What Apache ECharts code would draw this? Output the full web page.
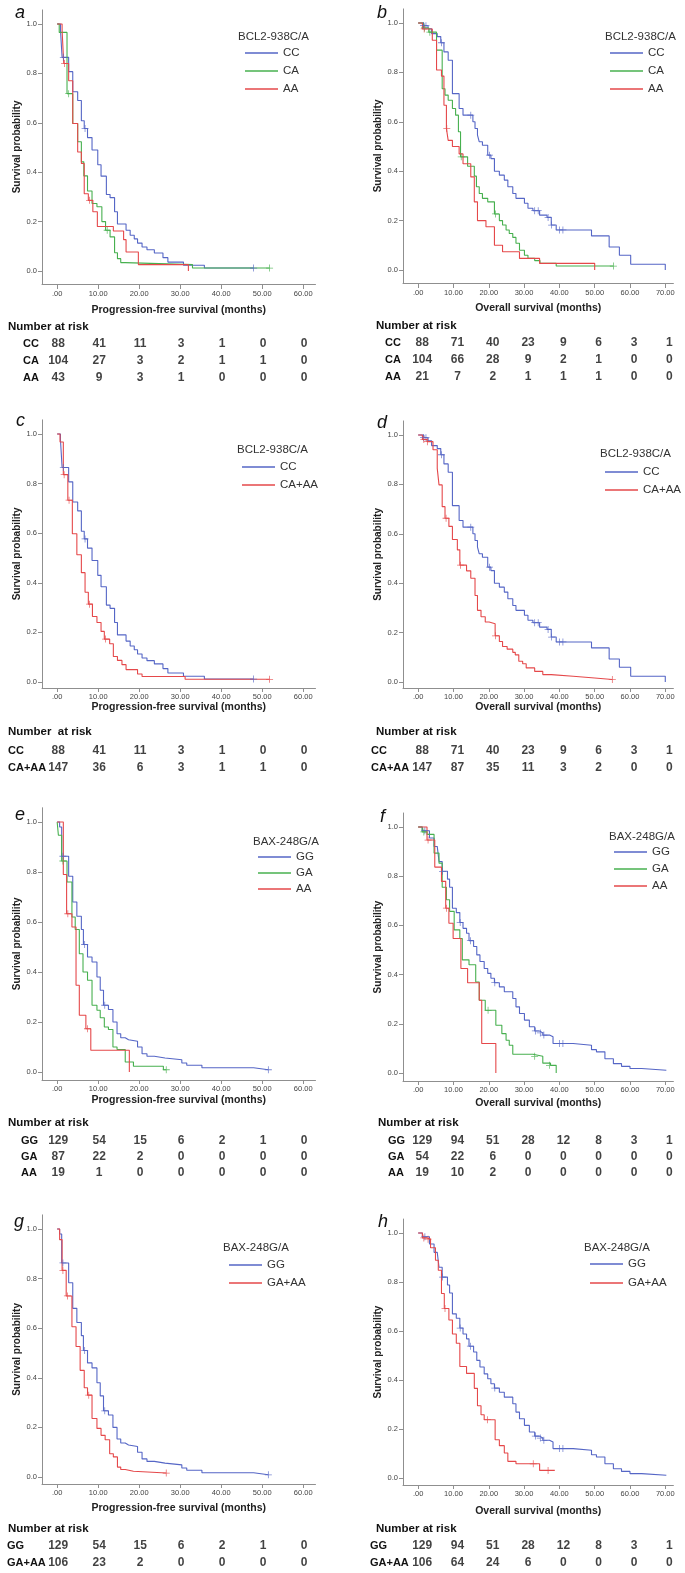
<!DOCTYPE html>
<html><head><meta charset="utf-8">
<script src="https://cdn.jsdelivr.net/npm/echarts@6/dist/echarts.min.js"></script>
<style>html,body{margin:0;padding:0;background:#fff}#c{width:685px;height:1573px}</style>
</head><body><div id="c"></div>
<script>
// ---------------- tick labels ----------------
const pfsTickValues = [0,10,20,30,40,50,60];
const pfsTickLabels = ['.00','10.00','20.00','30.00','40.00','50.00','60.00'];
const osTickValues = [0,10,20,30,40,50,60,70];
const osTickLabels = ['.00','10.00','20.00','30.00','40.00','50.00','60.00','70.00'];
const yTickValues = [0,0.2,0.4,0.6,0.8,1.0];
const yTickLabels = ['0.0','0.2','0.4','0.6','0.8','1.0'];

// ---------------- KM curves (time, survival) ----------------
// BCL2 PFS
const pfsCC = [[0,1],[0.8,0.977],[1.2,0.865],[2.8,0.807],[3.8,0.726],[5.0,0.69],[5.9,0.608],[6.6,0.577],[7.4,0.54],[8.5,0.49],[9.9,0.43],[10.7,0.384],[12.0,0.31],[12.9,0.297],[14.0,0.24],[14.7,0.19],[16.8,0.165],[17.8,0.145],[18.8,0.13],[19.6,0.113],[20.7,0.097],[21.9,0.086],[23.7,0.073],[25.8,0.054],[27.0,0.036],[30.8,0.023],[35.9,0.012],[47.9,0.012]];
const pfsCCcens = [[1.5,0.865],[6.8,0.577],[47.9,0.012]];
const pfsCA = [[0,1],[0.5,0.966],[2.4,0.718],[3.8,0.597],[5.0,0.523],[5.9,0.442],[6.5,0.385],[7.4,0.324],[8.5,0.273],[9.7,0.26],[10.9,0.2],[11.8,0.165],[12.9,0.138],[14.0,0.074],[14.7,0.05],[15.5,0.034],[16.6,0.026],[33.0,0.012],[51.8,0.012]];
const pfsCAcens = [[2.8,0.718],[12.2,0.165],[51.8,0.012]];
const pfsAA1 = [[0,1],[1.2,0.975],[1.6,0.84],[2.8,0.77],[3.8,0.597],[5.0,0.482],[5.9,0.435],[6.6,0.313],[7.6,0.286],[8.7,0.24],[9.8,0.18],[13.7,0.162],[16.2,0.127],[16.8,0.077],[19.8,0.026],[32.0,0]];
const pfsAA1cens = [[1.8,0.84],[7.9,0.286]];
const pfsCAAA = [[0,1],[0.7,0.968],[1.5,0.836],[2.6,0.733],[3.7,0.598],[4.8,0.513],[5.9,0.441],[6.8,0.362],[7.6,0.314],[8.6,0.264],[9.7,0.24],[10.7,0.204],[11.5,0.173],[12.8,0.154],[13.7,0.103],[14.7,0.087],[15.8,0.07],[16.8,0.05],[19.6,0.032],[20.7,0.022],[31.2,0.011],[51.8,0.011]];
const pfsCAAAcens = [[1.7,0.836],[2.9,0.733],[7.9,0.314],[11.8,0.173],[51.8,0.011]];
// BCL2 OS
const osCC = [[0,1],[1.6,0.989],[2.8,0.977],[3.8,0.957],[5.4,0.945],[6.4,0.92],[7.3,0.883],[8.5,0.849],[9.7,0.714],[11.6,0.654],[12.7,0.627],[15.5,0.6],[16.1,0.573],[16.8,0.546],[17.3,0.519],[18.2,0.505],[19.7,0.465],[20.6,0.451],[21.6,0.40],[23.0,0.384],[24.4,0.364],[25.4,0.337],[26.8,0.31],[27.7,0.29],[30.1,0.27],[31.1,0.25],[32.5,0.24],[34.4,0.222],[36.5,0.213],[37.7,0.182],[39.1,0.162],[49.1,0.138],[54.1,0.093],[57.0,0.06],[60.2,0.023],[70.0,0]];
const osCCcens = [[1.5,0.989],[2.2,0.989],[6.6,0.92],[14.9,0.627],[20.2,0.465],[33.0,0.24],[34.0,0.24],[36.8,0.213],[37.8,0.182],[40.0,0.162],[41.0,0.162]];
const osCA = [[0,1],[1.5,0.98],[3.0,0.963],[5.2,0.89],[6.8,0.734],[7.6,0.708],[8.5,0.687],[9.7,0.654],[10.6,0.627],[11.4,0.56],[12.0,0.458],[14.0,0.42],[15.9,0.38],[16.5,0.337],[17.3,0.31],[18.2,0.29],[19.7,0.276],[21.6,0.227],[23.0,0.2],[23.9,0.182],[24.9,0.162],[25.8,0.148],[26.8,0.132],[27.7,0.108],[28.7,0.08],[30.1,0.06],[31.1,0.047],[33.0,0.038],[34.5,0.027],[39.1,0.016],[55.3,0.016]];
const osCAcens = [[1.8,0.98],[3.3,0.963],[12.2,0.458],[21.9,0.227],[55.3,0.016]];
const osAA1 = [[0,1],[1.2,0.976],[4.0,0.93],[5.2,0.81],[6.6,0.785],[7.3,0.667],[8.0,0.573],[8.5,0.525],[9.7,0.5],[11.6,0.47],[12.7,0.43],[14.9,0.377],[15.9,0.276],[16.8,0.2],[19.2,0.175],[21.6,0.1],[23.9,0.074],[28.7,0.047],[34.4,0.027],[50.0,0]];
const osAA1cens = [[1.7,0.976],[8.1,0.573]];
const osCAAA = [[0,1],[1.2,0.982],[2.5,0.973],[4.2,0.94],[5.4,0.865],[5.9,0.798],[6.8,0.71],[7.6,0.663],[8.7,0.63],[9.7,0.577],[11.1,0.535],[11.8,0.473],[13.7,0.45],[14.9,0.42],[16.1,0.35],[16.8,0.29],[17.8,0.264],[19.0,0.243],[20.1,0.236],[21.8,0.187],[23.0,0.164],[23.9,0.144],[25.2,0.133],[26.8,0.12],[27.5,0.11],[28.5,0.084],[29.6,0.074],[30.6,0.057],[33.0,0.043],[35.3,0.03],[37.7,0.023],[43.9,0.016],[50.0,0.01],[55.0,0.01]];
const osCAAAcens = [[1.6,0.982],[2.6,0.973],[7.9,0.663],[12.0,0.473],[21.9,0.187],[55.0,0.01]];
// BAX PFS
const pfsGG = [[0,1],[0.6,0.98],[1.1,0.863],[2.8,0.783],[3.8,0.68],[4.8,0.623],[5.9,0.57],[6.4,0.51],[7.4,0.46],[8.5,0.44],[9.7,0.38],[10.5,0.327],[11.3,0.267],[12.5,0.25],[13.6,0.2],[14.6,0.153],[15.5,0.137],[16.6,0.129],[17.4,0.123],[19.6,0.1],[20.7,0.073],[21.9,0.063],[23.7,0.056],[26.3,0.049],[30.4,0.036],[31.6,0.027],[35.3,0.017],[47.9,0.009],[51.5,0.009]];
const pfsGGcens = [[1.4,0.863],[6.7,0.51],[11.6,0.267],[51.5,0.009]];
const pfsGA = [[0,1],[0.3,0.947],[1.1,0.844],[2.4,0.76],[3.6,0.62],[4.4,0.57],[5.4,0.473],[6.3,0.4],[7.4,0.367],[8.5,0.267],[9.7,0.247],[10.5,0.217],[11.5,0.18],[12.5,0.17],[13.6,0.1],[14.6,0.09],[16.6,0.04],[18.6,0.023],[25.9,0.009],[26.6,0.009]];
const pfsGAcens = [[1.4,0.844],[26.6,0.009]];
const pfsAA2 = [[0,1],[1.5,0.79],[2.3,0.633],[3.6,0.58],[4.6,0.347],[5.4,0.227],[7.0,0.173],[8.2,0.087],[17.6,0]];
const pfsAA2cens = [[2.6,0.633],[7.4,0.173]];
const pfsGAAA = [[0,1],[0.6,0.957],[1.2,0.833],[2.2,0.73],[3.6,0.606],[4.6,0.526],[5.6,0.43],[6.6,0.36],[7.4,0.33],[8.5,0.236],[9.7,0.196],[10.7,0.168],[11.7,0.15],[12.8,0.094],[13.7,0.081],[14.7,0.04],[15.5,0.03],[16.6,0.023],[18.6,0.016],[26.6,0.016]];
const pfsGAAAcens = [[1.4,0.833],[2.5,0.73],[7.7,0.33],[26.6,0.016]];
// BAX OS
const osGG = [[0,1],[1.2,0.985],[3.2,0.955],[4.5,0.921],[5.4,0.914],[5.9,0.86],[6.8,0.82],[8.3,0.788],[8.9,0.755],[9.7,0.67],[10.8,0.652],[11.8,0.612],[12.7,0.588],[13.7,0.568],[14.4,0.538],[15.7,0.514],[16.6,0.48],[17.5,0.453],[18.7,0.425],[19.7,0.405],[20.6,0.385],[21.6,0.367],[23.0,0.35],[24.4,0.33],[26.8,0.303],[27.7,0.269],[28.7,0.242],[30.1,0.215],[31.5,0.188],[33.0,0.171],[34.4,0.163],[35.3,0.154],[37.2,0.147],[38.2,0.12],[43.9,0.113],[49.1,0.095],[50.5,0.086],[52.9,0.058],[55.3,0.038],[57.6,0.027],[60.0,0.018],[63.3,0.011],[70.3,0.011]];
const osGGcens = [[1.9,0.985],[6.9,0.82],[11.9,0.612],[14.8,0.538],[21.7,0.367],[33.2,0.171],[34.6,0.163],[35.6,0.154],[40.0,0.12],[41.0,0.12]];
const osGA = [[0,1],[1.1,0.98],[2.5,0.97],[4.5,0.894],[5.9,0.853],[6.8,0.755],[8.0,0.704],[8.9,0.657],[10.2,0.582],[11.8,0.547],[12.5,0.46],[14.4,0.44],[16.3,0.37],[17.3,0.296],[19.0,0.255],[22.0,0.194],[23.7,0.16],[24.9,0.133],[25.8,0.113],[26.8,0.076],[32.5,0.068],[35.3,0.04],[37.5,0.031],[39.1,0]];
const osGAcens = [[1.6,0.98],[19.8,0.255],[33.0,0.068],[37.2,0.031]];
const osAA2 = [[0,1],[2.5,0.947],[4.7,0.837],[6.6,0.779],[7.8,0.67],[8.7,0.609],[9.9,0.547],[12.1,0.425],[14.0,0.367],[17.3,0.296],[18.0,0.12],[22.0,0]];
const osAA2cens = [[2.8,0.947],[8.0,0.67]];
const osGAAA = [[0,1],[1.2,0.98],[2.5,0.975],[3.5,0.94],[4.9,0.889],[5.7,0.848],[6.6,0.753],[7.4,0.692],[8.7,0.645],[9.7,0.588],[10.8,0.55],[11.8,0.455],[13.7,0.427],[15.9,0.366],[16.8,0.295],[17.8,0.258],[18.7,0.238],[21.8,0.156],[23.0,0.132],[24.4,0.102],[25.4,0.068],[27.7,0.058],[34.4,0.031],[38.7,0.031]];
const osGAAAcens = [[1.6,0.98],[2.8,0.975],[7.6,0.692],[19.6,0.238],[32.6,0.058],[36.8,0.031]];

// ---------------- Number at risk ----------------
const riskA_CC = [88,41,11,3,1,0,0];
const riskA_CA = [104,27,3,2,1,1,0];
const riskA_AA = [43,9,3,1,0,0,0];
const riskB_CC = [88,71,40,23,9,6,3,1];
const riskB_CA = [104,66,28,9,2,1,0,0];
const riskB_AA = [21,7,2,1,1,1,0,0];
const riskC_CC = [88,41,11,3,1,0,0];
const riskC_CAAA = [147,36,6,3,1,1,0];
const riskD_CC = [88,71,40,23,9,6,3,1];
const riskD_CAAA = [147,87,35,11,3,2,0,0];
const riskE_GG = [129,54,15,6,2,1,0];
const riskE_GA = [87,22,2,0,0,0,0];
const riskE_AA = [19,1,0,0,0,0,0];
const riskF_GG = [129,94,51,28,12,8,3,1];
const riskF_GA = [54,22,6,0,0,0,0,0];
const riskF_AA = [19,10,2,0,0,0,0,0];
const riskG_GG = [129,54,15,6,2,1,0];
const riskG_GAAA = [106,23,2,0,0,0,0];
const riskH_GG = [129,94,51,28,12,8,3,1];
const riskH_GAAA = [106,64,24,6,0,0,0,0];

// ---------------- styling / layout ----------------
const BLUE = '#5566c6', GREEN = '#47b04f', RED = '#e5484a';
const FONT = "'Liberation Sans',Arial,sans-serif";
const AXIS_COLOR = '#8f8f8f';
const cols = [
  {left:42, xmin:-3.7, xmax:63, width:273.5, ticks:pfsTickValues, labels:pfsTickLabels, title:'Progression-free survival (months)', labOff:1},
  {left:403, xmin:-4.3, xmax:72.3, width:270.4, ticks:osTickValues, labels:osTickLabels, title:'Overall survival (months)', labOff:4}
];

const panels = [
  {letter:'a', col:0, gene:'BCL2-938C/A', nar:'Number at risk',
   groups:[['CC',pfsCC,pfsCCcens,riskA_CC,BLUE],['CA',pfsCA,pfsCAcens,riskA_CA,GREEN],['AA',pfsAA1,pfsAA1cens,riskA_AA,RED]],
   L:{y1:24,y0:271,axisY:284,tickM:6,tickLen:5,nameGap:21,rows:[344,361,378],narY:327,narX:8,rowX:23,letter:[15,3.5],legT:[238,37],legL:245,legRows:[53,71,88]}},
  {letter:'b', col:1, gene:'BCL2-938C/A', nar:'Number at risk',
   groups:[['CC',osCC,osCCcens,riskB_CC,BLUE],['CA',osCA,osCAcens,riskB_CA,GREEN],['AA',osAA1,osAA1cens,riskB_AA,RED]],
   L:{y1:23,y0:270,axisY:283,tickM:6,tickLen:5,nameGap:20,rows:[343,360,377],narY:326,narX:376,rowX:385,letter:[377,4],legT:[605,37],legL:610,legRows:[53,71,88]}},
  {letter:'c', col:0, gene:'BCL2-938C/A', nar:'Number  at risk',
   groups:[['CC',pfsCC,pfsCCcens,riskC_CC,BLUE],['CA+AA',pfsCAAA,pfsCAAAcens,riskC_CAAA,RED]],
   L:{y1:434,y0:682,axisY:688,tickM:5,tickLen:4,nameGap:13,rows:[751,768],narY:732,narX:8,rowX:8,letter:[16,411.5],legT:[237,450],legL:242,legRows:[467,485]}},
  {letter:'d', col:1, gene:'BCL2-938C/A', nar:'Number at risk',
   groups:[['CC',osCC,osCCcens,riskD_CC,BLUE],['CA+AA',osCAAA,osCAAAcens,riskD_CAAA,RED]],
   L:{y1:435,y0:682,axisY:688,tickM:5,tickLen:4,nameGap:14,rows:[751,768],narY:732,narX:376,rowX:371,letter:[377,413.5],legT:[600,454],legL:605,legRows:[472,490]}},
  {letter:'e', col:0, gene:'BAX-248G/A', nar:'Number at risk',
   groups:[['GG',pfsGG,pfsGGcens,riskE_GG,BLUE],['GA',pfsGA,pfsGAcens,riskE_GA,GREEN],['AA',pfsAA2,pfsAA2cens,riskE_AA,RED]],
   L:{y1:822,y0:1072,axisY:1080,tickM:5,tickLen:4,nameGap:15,rows:[1141,1157,1174],narY:1123,narX:8,rowX:21,letter:[15,805.5],legT:[253,842],legL:258,legRows:[857,873,890]}},
  {letter:'f', col:1, gene:'BAX-248G/A', nar:'Number at risk',
   groups:[['GG',osGG,osGGcens,riskF_GG,BLUE],['GA',osGA,osGAcens,riskF_GA,GREEN],['AA',osAA2,osAA2cens,riskF_AA,RED]],
   L:{y1:827,y0:1073,axisY:1081,tickM:5,tickLen:4,nameGap:17,rows:[1141,1157,1174],narY:1123,narX:378,rowX:388,letter:[380,808],legT:[609,837],legL:614,legRows:[852,869,886]}},
  {letter:'g', col:0, gene:'BAX-248G/A', nar:'Number at risk',
   groups:[['GG',pfsGG,pfsGGcens,riskG_GG,BLUE],['GA+AA',pfsGAAA,pfsGAAAcens,riskG_GAAA,RED]],
   L:{y1:1229,y0:1477,axisY:1484,tickM:5,tickLen:4,nameGap:19,rows:[1546,1563],narY:1529,narX:8,rowX:7,letter:[14,1213],legT:[223,1248],legL:229,legRows:[1265,1283]}},
  {letter:'h', col:1, gene:'BAX-248G/A', nar:'Number at risk',
   groups:[['GG',osGG,osGGcens,riskH_GG,BLUE],['GA+AA',osGAAA,osGAAAcens,riskH_GAAA,RED]],
   L:{y1:1233,y0:1478,axisY:1485,tickM:5,tickLen:4,nameGap:21,rows:[1546,1563],narY:1529,narX:376,rowX:370,letter:[378,1213],legT:[584,1248],legL:590,legRows:[1264,1283]}}
];

const grid = [], xAxis = [], yAxis = [], series = [], title = [], legend = [];
const plusPath = 'path://M4,0 L5,0 L5,4 L9,4 L9,5 L5,5 L5,9 L4,9 L4,5 L0,5 L0,4 L4,4 Z';

panels.forEach((p, i) => {
  const c = cols[p.col], L = p.L, span = L.y0 - L.y1;
  const ymax = 1.057, ymin = -(L.axisY - L.y0) / span;
  const gPlot = grid.length;
  grid.push({left:c.left, width:c.width, top:L.y1 - (ymax - 1)*span, height:(ymax - ymin)*span});
  xAxis.push({gridIndex:gPlot, type:'value', min:c.xmin, max:c.xmax,
    axisLine:{show:true, onZero:false, lineStyle:{color:AXIS_COLOR, width:1}},
    axisTick:{show:true, customValues:c.ticks, length:L.tickLen, lineStyle:{color:AXIS_COLOR}},
    axisLabel:{customValues:c.ticks, formatter:v => c.labels[c.ticks.indexOf(v)], fontSize:7.5, color:'#444', margin:L.tickM, fontFamily:FONT},
    splitLine:{show:false},
    name:c.title, nameLocation:'middle', nameGap:L.nameGap,
    nameTextStyle:{fontWeight:'bold', fontSize:10.5, color:'#222', fontFamily:FONT}});
  yAxis.push({gridIndex:gPlot, type:'value', min:ymin, max:ymax,
    axisLine:{show:true, onZero:false, lineStyle:{color:AXIS_COLOR, width:1}},
    axisTick:{show:true, customValues:yTickValues, length:4, lineStyle:{color:AXIS_COLOR}},
    axisLabel:{customValues:yTickValues, formatter:v => yTickLabels[yTickValues.indexOf(v)], fontSize:7.5, color:'#444', margin:5, fontFamily:FONT},
    splitLine:{show:false},
    name:'Survival probability', nameLocation:'middle', nameGap:19, nameRotate:90,
    nameTextStyle:{fontWeight:'bold', fontSize:10, color:'#222', fontFamily:FONT}});

  // table grid
  const gTab = grid.length;
  const pitch = L.rows[1] - L.rows[0];
  const n = p.groups.length;
  grid.push({left:c.left, width:c.width, top:L.rows[0] - pitch/2, height:pitch*n});
  xAxis.push({gridIndex:gTab, type:'value', min:c.xmin, max:c.xmax, show:false});
  yAxis.push({gridIndex:gTab, type:'category', inverse:true, data:p.groups.map(g => g[0]),
    axisLine:{show:false}, axisTick:{show:false}, splitLine:{show:false},
    axisLabel:{interval:0, align:'left', margin:c.left - L.rowX, fontWeight:'bold', fontSize:11, color:'#111', fontFamily:FONT}});

  p.groups.forEach((g, k) => {
    const [name, curve, cens, risk, color] = g;
    series.push({type:'line', name:name, xAxisIndex:gPlot, yAxisIndex:gPlot, data:curve, step:'end',
      showSymbol:false, symbol:'none', color:color, lineStyle:{color:color, width:1.1}, z:3+k, silent:true});
    series.push({type:'scatter', name:name + ' censored', xAxisIndex:gPlot, yAxisIndex:gPlot, data:cens,
      symbol:plusPath, symbolSize:7, itemStyle:{color:color}, z:6+k, silent:true});
    series.push({type:'scatter', name:'risk ' + p.letter + ' ' + name, xAxisIndex:gTab, yAxisIndex:gTab,
      data:risk.map((v, j) => [c.ticks[j], k, v]), symbolSize:1, itemStyle:{color:'rgba(0,0,0,0)'},
      label:{show:true, position:'inside', offset:[c.labOff,0], formatter:q => String(q.value[2]), fontWeight:'bold', fontSize:12, color:'#111', fontFamily:FONT},
      silent:true});
  });

  title.push({text:p.letter, left:L.letter[0], top:L.letter[1], padding:0,
    textStyle:{fontSize:18, fontStyle:'italic', fontWeight:'normal', color:'#111', fontFamily:FONT, lineHeight:18}});
  title.push({text:p.gene, left:L.legT[0], top:L.legT[1] - 7.5, padding:0,
    textStyle:{fontSize:11.5, fontWeight:'normal', color:'#333', fontFamily:FONT, lineHeight:15}});
  title.push({text:p.nar, left:L.narX, top:L.narY - 7.5, padding:0,
    textStyle:{fontSize:11.5, fontWeight:'bold', color:'#111', fontFamily:FONT, lineHeight:15}});

  const lp = L.legRows.length > 1 ? L.legRows[1] - L.legRows[0] : 17.5;
  legend.push({orient:'vertical', left:L.legL, top:L.legRows[0] - 7, padding:0, itemGap:lp - 14,
    itemWidth:33, itemHeight:1.3, icon:'rect', selectedMode:false,
    data:p.groups.map(g => g[0]),
    textStyle:{fontSize:11.5, color:'#333', fontFamily:FONT, lineHeight:14, padding:[0,0,0,0]}});
});

const chart = echarts.init(document.getElementById('c'), null, {renderer:'canvas', width:685, height:1573});
chart.setOption({animation:false, backgroundColor:'#fff', grid, xAxis, yAxis, series, title, legend});
</script>
</body></html>
